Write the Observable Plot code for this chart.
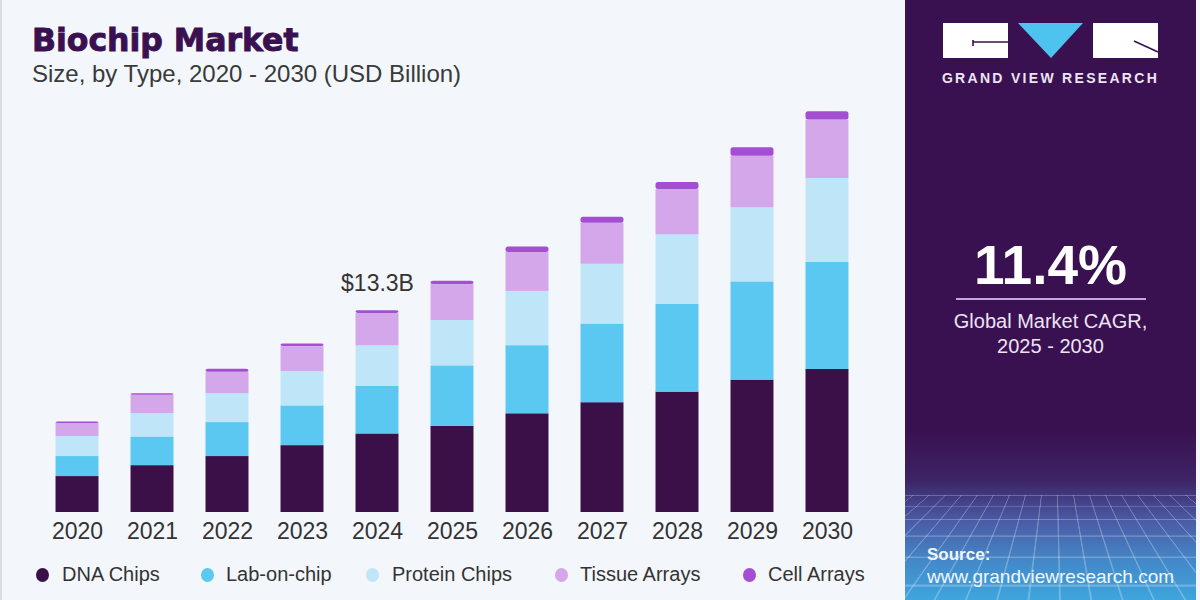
<!DOCTYPE html>
<html>
<head>
<meta charset="utf-8">
<script src="https://cdn.jsdelivr.net/npm/d3@7"></script>
<script src="https://cdn.jsdelivr.net/npm/@observablehq/plot@0.6"></script>
<style>
  html, body { margin: 0; padding: 0; }
  body { width: 1200px; height: 600px; overflow: hidden; background: #f3f7fb; font-family: "Liberation Sans", Arial, sans-serif; }
  #page { position: relative; width: 1200px; height: 600px; background: #f3f7fb; }
  #page .abs { position: absolute; line-height: 1; white-space: nowrap; }
  #leftEdge { position: absolute; left: 0; top: 0; width: 2px; height: 600px; background: #d9dee5; }
  #title { left: 32px; top: 25px; font-family: "DejaVu Sans", sans-serif; font-weight: bold; font-size: 31.5px; color: #3a1150; -webkit-text-stroke: 0.9px #3a1150; }
  #subtitle { left: 32px; top: 62px; font-size: 24px; color: #3a3a3a; }
  #chart { position: absolute; left: 0; top: 95px; }
  #legend .item { position: absolute; top: 564px; font-size: 20px; color: #333; line-height: 1; white-space: nowrap; }
  #legend .dot { position: absolute; width: 13px; height: 14px; border-radius: 50%; top: 568px; }
  #panel { position: absolute; left: 905px; top: 0; width: 291px; height: 600px; overflow: hidden;
    background: linear-gradient(to bottom, #3a1150 0px, #3a1150 430px, #3c2466 480px, #4b5aa3 520px, #4487c8 560px, #3ea6dc 600px); }
  #grid { position: absolute; left: -200px; top: 90px; width: 700px; height: 260px;
    background-image:
      repeating-linear-gradient(to right, rgba(220,235,255,0.3) 0 1px, transparent 1px 16px),
      repeating-linear-gradient(to bottom, rgba(220,235,255,0.3) 0 1px, transparent 1px 16px);
    transform-origin: center top; transform: perspective(140px) rotateX(52deg); }
  #gridWrap { position: absolute; left: 0; top: 405px; width: 291px; height: 195px; overflow: hidden; }
  #panel .ctr { position: absolute; left: 0; width: 291px; text-align: center; line-height: 1; white-space: nowrap; }
</style>
</head>
<body>
<div id="page">
  <div id="leftEdge"></div>
  <div id="title" class="abs">Biochip Market</div>
  <div id="subtitle" class="abs">Size, by Type, 2020 - 2030 (USD Billion)</div>
  <div id="chart"></div>
  <div id="legend"></div>
  <div id="panel">
    <div id="gridWrap"><div id="grid"></div></div>
    <svg id="logo" width="291" height="70" style="position:absolute;left:0;top:0">
      <rect x="38" y="23" width="65" height="35" fill="#ffffff"/>
      <path d="M68 46 V40 M68 42 H103" stroke="#3a1150" stroke-width="1.6" fill="none"/>
      <polygon points="113,23 178,23 146,58" fill="#4fc3f0"/>
      <rect x="188" y="23" width="65" height="35" fill="#ffffff"/>
      <path d="M229 41 L253 52" stroke="#3a1150" stroke-width="1.6" fill="none"/>
    </svg>
    <div class="ctr" style="top:71px;font-size:14px;font-weight:bold;letter-spacing:2.3px;color:#ece4f4;">GRAND VIEW RESEARCH</div>
    <div class="ctr" style="top:238px;font-size:55px;font-weight:bold;color:#ffffff;">11.4%</div>
    <div style="position:absolute;left:51px;top:298px;width:190px;height:2px;background:#c4a6e2;"></div>
    <div class="ctr" style="top:311px;font-size:20px;color:#ece4f4;">Global Market CAGR,</div>
    <div class="ctr" style="top:336px;font-size:20px;color:#ece4f4;">2025 - 2030</div>
    <div style="position:absolute;left:22px;top:546px;font-size:17px;font-weight:bold;color:#f2f6ff;line-height:1;">Source:</div>
    <div style="position:absolute;left:22px;top:567px;font-size:19px;color:#f2f6ff;line-height:1;white-space:nowrap;">www.grandviewresearch.com</div>
  </div>
</div>
<script>
// Biochip market size by type, USD billion
const years = [2020, 2021, 2022, 2023, 2024, 2025, 2026, 2027, 2028, 2029, 2030];
const seriesNames = ["DNA Chips", "Lab-on-chip", "Protein Chips", "Tissue Arrays", "Cell Arrays"];
const dnaChips     = [2.37, 3.09, 3.69, 4.41, 5.18, 5.69, 6.51, 7.24, 7.94, 8.73, 9.43];
const labOnChip    = [1.32, 1.89, 2.24, 2.62, 3.15, 3.98, 4.49, 5.19, 5.80, 6.48, 7.06];
const proteinChips = [1.32, 1.54, 1.91, 2.26, 2.66, 2.99, 3.58, 3.94, 4.57, 4.88, 5.54];
const tissueArrays = [0.86, 1.21, 1.41, 1.65, 2.14, 2.37, 2.57, 2.70, 2.99, 3.41, 3.85];
const cellArrays   = [0.10, 0.10, 0.20, 0.18, 0.17, 0.22, 0.36, 0.40, 0.46, 0.55, 0.55];
const labelYear = 2024;

const palette = ["#3b1049", "#5bc8f2", "#bfe6f8", "#d4a7ea", "#a44fd2"];
const seriesValues = [dnaChips, labOnChip, proteinChips, tissueArrays, cellArrays];

// stacked segments, bottom to top
const rows = [];
years.forEach((year, i) => {
  let base = 0;
  seriesValues.forEach((vals, s) => {
    rows.push({year, type: seriesNames[s], y1: base, y2: base + vals[i]});
    base += vals[i];
  });
});
const totals = years.map((year, i) => ({year, total: d3.sum(seriesValues, v => v[i])}));
const labelled = totals.filter(d => d.year === labelYear);

const chart = Plot.plot({
  width: 905,
  height: 450,
  marginTop: 0,
  marginBottom: 33,
  marginLeft: 23.5,
  marginRight: 24.5,
  style: {background: "transparent", fontFamily: "'Liberation Sans', Arial, sans-serif", fontSize: "23px", color: "#333"},
  x: {domain: years, padding: 0.427, round: false, label: null},
  y: {domain: [0, 27.5], axis: null},
  color: {domain: seriesNames, range: palette},
  marks: [
    Plot.barY(rows.filter(d => d.type !== "Cell Arrays"), {x: "year", y1: "y1", y2: "y2", fill: "type"}),
    Plot.barY(rows.filter(d => d.type === "Cell Arrays"), {x: "year", y1: "y1", y2: "y2", fill: "type", rx: 2.5}),
    Plot.text(labelled, {x: "year", y: "total", text: d => `$${d.total.toFixed(1)}B`, dy: -27, lineAnchor: "middle", fontSize: 23, fill: "#333"}),
    Plot.axisX({tickSize: 0, tickPadding: 10, fontSize: 23, label: null, tickFormat: d => String(d)})
  ]
});
document.getElementById("chart").appendChild(chart);

// legend below the plot
const legendX = [[42, 62], [207, 226], [372, 392], [561, 580], [749, 768]];
const legend = document.getElementById("legend");
seriesNames.forEach((name, i) => {
  const dot = document.createElement("div");
  dot.className = "dot";
  dot.style.left = (legendX[i][0] - 6.5) + "px";
  dot.style.background = palette[i];
  legend.appendChild(dot);
  const label = document.createElement("div");
  label.className = "item";
  label.style.left = legendX[i][1] + "px";
  label.textContent = name;
  legend.appendChild(label);
});
</script>
</body>
</html>
